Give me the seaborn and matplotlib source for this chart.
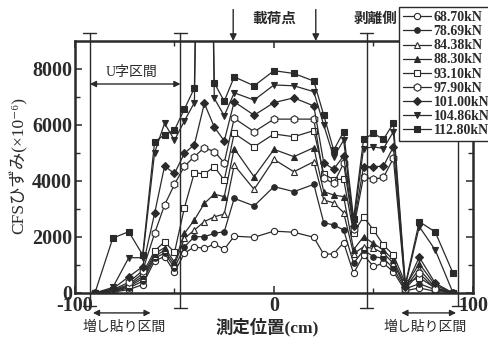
import matplotlib
matplotlib.use("Agg")
import matplotlib.pyplot as plt
import matplotlib.transforms as mtransforms
import pandas as pd
import seaborn as sns

# Gauge positions along the beam (cm)
positions = [-90, -81, -73, -66, -60, -55, -50, -45, -40, -35, -30, -25, -20, -10,
             0, 10, 20, 25, 30, 35, 40, 45, 50, 55, 60, 66, 73, 81, 90]

load_labels = ["68.70kN", "78.69kN", "84.38kN", "88.30kN", "93.10kN",
               "97.90kN", "101.00kN", "104.86kN", "112.80kN"]

# CFS strain (x10^-6) at each load step
strain_6870 = [0, 30, 120, 300, 1150, 1300, 750, 1420, 1650, 1590, 1750, 1560, 2030, 1990,
               2210, 2170, 1990, 1380, 1400, 1800, 700, 1360, 950, 1060, 760, 80, 180, 60, 0]
strain_7869 = [0, 50, 180, 420, 1250, 1420, 900, 1650, 2010, 2010, 2130, 2190, 3380, 3110,
               3800, 3620, 3880, 2510, 2430, 2250, 1060, 1530, 1300, 1240, 880, 150, 330, 120, 0]
strain_8438 = [0, 60, 220, 520, 1320, 1520, 1000, 1950, 2250, 2550, 2720, 2820, 4570, 3700,
               4770, 4330, 4690, 3320, 3220, 2870, 1400, 1650, 1590, 1420, 1060, 200, 850, 200, 0]
strain_8830 = [0, 80, 260, 600, 1400, 1620, 1100, 2130, 2610, 3200, 3530, 3440, 5160, 4150,
               5130, 4870, 5190, 3620, 3500, 3440, 1550, 2010, 1770, 1530, 1180, 250, 1050, 280, 0]
strain_9310 = [0, 100, 300, 700, 1500, 1830, 1450, 3050, 4300, 4250, 4510, 4030, 5700, 5220,
               5680, 5580, 5800, 4250, 4050, 4060, 2150, 2720, 2250, 1710, 1360, 350, 550, 180, 0]
strain_9790 = [0, 120, 380, 800, 2130, 3140, 3880, 4530, 4870, 5190, 5050, 4650, 6240, 5760,
               6210, 6210, 6210, 4090, 3920, 4630, 2300, 4150, 4060, 4130, 4810, 150, 700, 150, 0]
strain_10100 = [0, 150, 580, 940, 2840, 4530, 4270, 4990, 5300, 6770, 5930, 5430, 6830, 6350,
                6800, 6970, 6680, 4650, 4420, 4900, 2400, 4510, 4510, 4530, 5220, 200, 1280, 350, 0]
strain_10486 = [0, 200, 1260, 1260, 5010, 6060, 5460, 6150, 6800, 30000, 6950, 6330, 7150, 6890,
                7430, 7400, 7190, 6000, 4850, 5460, 2500, 5160, 5220, 5160, 5760, 250, 2370, 1540, 0]
strain_11280 = [0, 1960, 2190, 1360, 5400, 5650, 5820, 6570, 7320, 30000, 7500, 6850, 7720, 7400,
                7940, 7840, 7570, 6350, 5100, 5760, 2650, 5490, 5700, 5490, 6060, 300, 2550, 2180, 700]

series = [strain_6870, strain_7869, strain_8438, strain_8830, strain_9310,
          strain_9790, strain_10100, strain_10486, strain_11280]

sns.set_theme(style="ticks")
cjk = ["Liberation Serif", "Noto Sans CJK JP", "DejaVu Sans"]
plt.rcParams["font.family"] = cjk

ink = "#2a2a2a"

marker_styles = [
    dict(marker="o", markerfacecolor="white", markersize=4.5),
    dict(marker="o", markerfacecolor=ink, markersize=4.0),
    dict(marker="^", markerfacecolor="white", markersize=4.5),
    dict(marker="^", markerfacecolor=ink, markersize=4.5),
    dict(marker="s", markerfacecolor="white", markersize=4.3),
    dict(marker="h", markerfacecolor="white", markersize=5.5),
    dict(marker="D", markerfacecolor=ink, markersize=4.3),
    dict(marker="v", markerfacecolor=ink, markersize=5.0),
    dict(marker="s", markerfacecolor=ink, markersize=4.5),
]

fig = plt.figure(figsize=(4.89, 3.39), dpi=100)
ax = fig.add_axes([75 / 489, 46 / 339, 398 / 489, 252 / 339])

for label, values, st in zip(load_labels, series, marker_styles):
    df = pd.DataFrame({"pos": positions, "strain": values})
    sns.lineplot(data=df, x="pos", y="strain", ax=ax, color=ink, linewidth=0.9,
                 markeredgecolor=ink, markeredgewidth=0.8, label=label,
                 legend=False, **st)
handles = list(ax.lines[:len(load_labels)])

ax.set_xlim(-100, 100)
ax.set_ylim(0, 9000)
ax.set_xticks([-100, 0, 100])
ax.set_xticklabels(["-100", "0", "100"])
ax.set_xticks([-50, 50], minor=True)
ax.set_yticks([0, 2000, 4000, 6000, 8000])
ax.set_yticks([1000, 3000, 5000, 7000], minor=True)
ax.tick_params(which="both", direction="in", top=True, right=True, color=ink,
               labelcolor=ink)
ax.tick_params(which="major", length=5, width=1.1, labelsize=14.5, pad=2)
ax.tick_params(which="minor", length=3.5, width=1.0)
for lab in ax.get_xticklabels() + ax.get_yticklabels():
    lab.set_fontweight("bold")
for sp in ax.spines.values():
    sp.set_linewidth(1.8)
    sp.set_color(ink)

ax.set_xlabel("")
ax.set_ylabel("CFSひずみ(×10⁻⁶)", fontsize=12.5, color=ink, family=cjk)
ax.yaxis.set_label_coords(-0.118, 0.504)

# Section boundaries with T-shaped ends
trans = mtransforms.blended_transform_factory(ax.transData, ax.transAxes)
bounds = [(-92.5, -0.05, 1.032, True), (-47, -0.06, 1.032, True),
          (46.5, -0.06, 1.032, True), (92.5, -0.05, 1.032, False)]
for x, y0, y1, top_bar in bounds:
    ax.plot([x, x], [y0, y1], transform=trans, color=ink, lw=1.0, clip_on=False)
    ax.plot([x - 3.3, x + 3.3], [y0, y0], transform=trans, color=ink, lw=1.0,
            clip_on=False)
    if top_bar:
        ax.plot([x - 3.3, x + 3.3], [y1, y1], transform=trans, color=ink, lw=1.0,
                clip_on=False)

def span_arrow(x0, x1, y):
    ax.annotate("", xy=(x0, y), xytext=(x1, y), xycoords=trans, textcoords=trans,
                arrowprops=dict(arrowstyle="<|-|>", color=ink, lw=1.0,
                                mutation_scale=9, shrinkA=0, shrinkB=0),
                annotation_clip=False)

span_arrow(-92.5, -47, (293 - 84) / 252)
ax.text(-71.5, (293 - 72) / 252, "U字区間", transform=trans, ha="center",
        va="center", fontsize=10, color=ink, family=cjk)

span_arrow(-91, -62, -0.079)
span_arrow(64, 91.5, -0.079)
ax.text(-75.5, -0.135, "増し貼り区間", transform=trans, ha="center", va="center",
        fontsize=10, color=ink, family=cjk, clip_on=False)
ax.text(76, -0.135, "増し貼り区間", transform=trans, ha="center", va="center",
        fontsize=10, color=ink, family=cjk, clip_on=False)
ax.text(-3.5, -0.135, "測定位置(cm)", transform=trans, ha="center", va="center",
        fontsize=12.5, color=ink, family=cjk, fontweight="bold", clip_on=False)

# Loading points
for x in (-20.5, 21):
    ax.annotate("", xy=(x, 1.0), xytext=(x, 1.125), xycoords=trans,
                textcoords=trans,
                arrowprops=dict(arrowstyle="-|>", color=ink, lw=1.0,
                                mutation_scale=10, shrinkA=0, shrinkB=0),
                annotation_clip=False)
ax.text(0, (293 - 19) / 252, "載荷点", transform=trans, ha="center", va="center",
        fontsize=10.5, color=ink, family=cjk, fontweight="bold")
ax.text(51, (293 - 19) / 252, "剥離側", transform=trans, ha="center", va="center",
        fontsize=10.5, color=ink, family=cjk, fontweight="bold")

leg = ax.legend(handles, load_labels, loc="upper left",
                bbox_to_anchor=(399 / 489, 1 - 7 / 339),
                bbox_transform=fig.transFigure, frameon=True, fancybox=False,
                edgecolor=ink, framealpha=1, borderpad=0.3, labelspacing=0.08,
                handlelength=2.0, handletextpad=0.2, borderaxespad=0,
                prop=dict(family="Liberation Serif", size=10, weight="bold"))
leg.get_frame().set_linewidth(1.0)
for t in leg.get_texts():
    t.set_color(ink)
leg.set_zorder(10)

fig.savefig("out.png", dpi=100)
